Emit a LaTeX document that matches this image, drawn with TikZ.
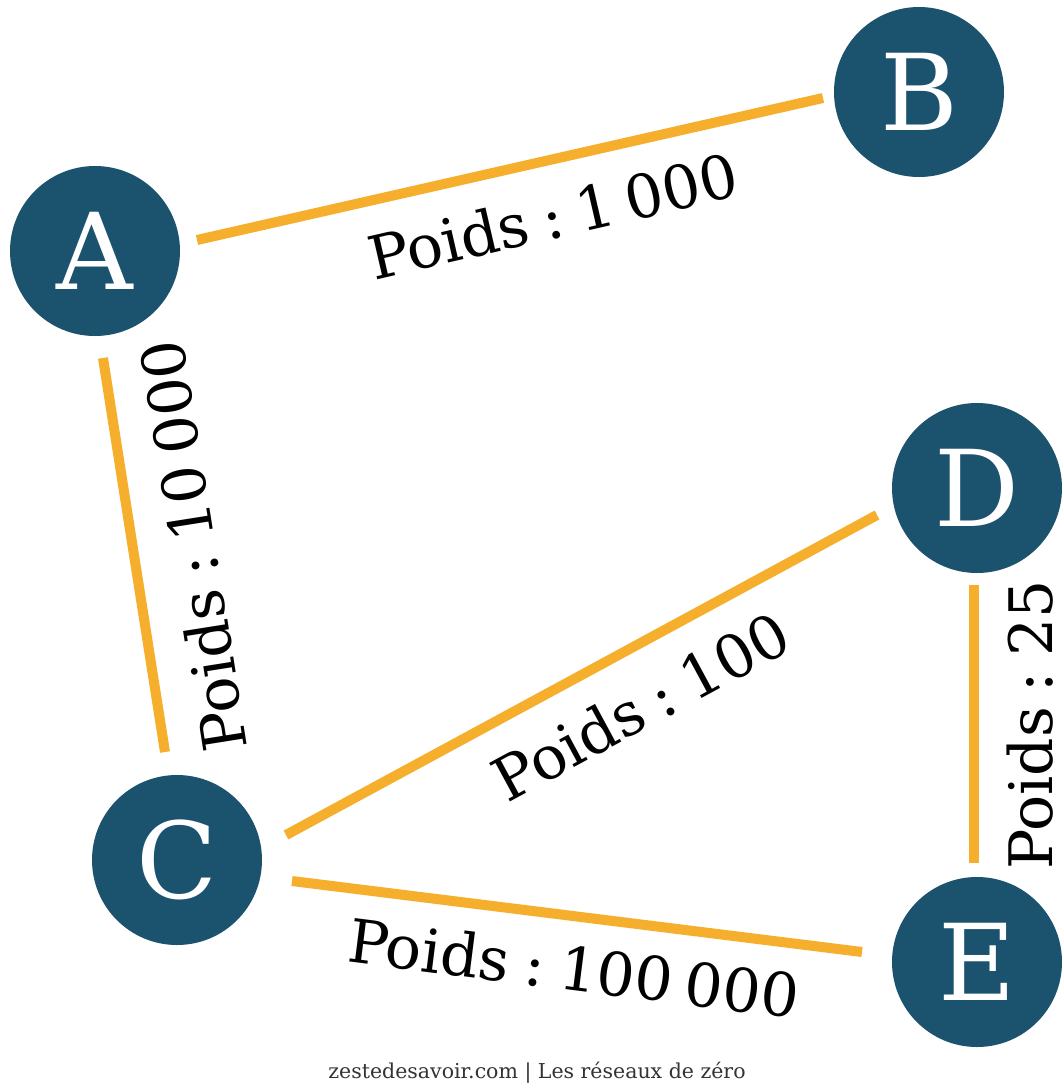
\documentclass[tikz,border=0pt]{standalone}
\usepackage{fontspec}
\setmainfont{DejaVu Serif}
\definecolor{nodeblue}{HTML}{1B526E}
\definecolor{edgeorange}{HTML}{F6AE2D}
\definecolor{footgray}{HTML}{333333}
\newcommand{\wsep}{\hspace{0.25em}}
\newcommand{\ksep}{\hspace{0.2em}}
\tikzset{
  vertex/.style={circle, fill=nodeblue, minimum size=170pt, inner sep=0pt, text=white, font=\fontsize{106}{106}\selectfont},
  edge/.style={draw=edgeorange, line width=10pt, line cap=butt},
  weight/.style={inner sep=0pt, text=black, font=\fontsize{60}{60}\selectfont},
}
\begin{document}
\begin{tikzpicture}[x=1pt, y=-1pt]
\useasboundingbox[fill=white] (0,0) rectangle (1063,1088);
\node[vertex] (A) at (95,251) {A};
\node[vertex] (B) at (919,92) {B};
\node[vertex] (C) at (177,860) {C};
\node[vertex] (D) at (977,488) {D};
\node[vertex] (E) at (977,962) {E};

\draw[edge] ([shift={(102,-11)}]A.center) -- ([shift={(-96,6)}]B.center);
\draw[edge] ([shift={(8,107)}]A.center) -- ([shift={(-12,-108)}]C.center);
\draw[edge] ([shift={(109,-25)}]C.center) -- ([shift={(-100,27)}]D.center);
\draw[edge] ([shift={(115,21)}]C.center) -- ([shift={(-115,-10)}]E.center);
\draw[edge] ([shift={(-3,97)}]D.center) -- ([shift={(-3,-99)}]E.center);

\node[weight, rotate=13] (wAB) at (553,216) {Poids\wsep:\wsep1\ksep000};
\node[weight, rotate=99] (wAC) at (193,546) {Poids\wsep:\wsep10\ksep000};
\node[weight, rotate=28.4] (wCD) at (641,706) {Poids\wsep:\wsep100};
\node[weight, rotate=-7.2] (wCE) at (574,968) {Poids\wsep:\wsep100\ksep000};
\node[weight, rotate=90] (wDE) at (1030,725) {Poids\wsep:\wsep25};

\node[text=footgray, inner sep=0pt, font=\fontsize{20.5}{20.5}\selectfont] (foot) at (537,1073) {zestedesavoir.com | Les réseaux de zéro};
\end{tikzpicture}
\end{document}
